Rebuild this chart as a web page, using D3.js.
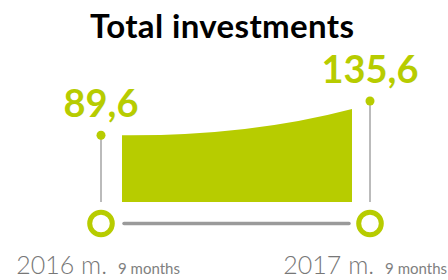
<!DOCTYPE html>
<html><head><meta charset="utf-8">
<script src="https://cdn.jsdelivr.net/npm/d3@7"></script>
<style>html,body{margin:0;padding:0;background:#fff;}svg{display:block;}</style>
</head><body>
<svg id="c" width="448" height="280"></svg>
<script>
const title = "Total investments";
const years = ["2016 m.", "2017 m."];
const periods = ["9 months", "9 months"];
const values = [89.6, 135.6];
const valueLabels = ["89,6", "135,6"];

const lime = "#b7cc00";
const grey = "#9a9a9a";
const svg = d3.select("#c");

const x = d3.scalePoint().domain(years).range([101, 370]);
const y = d3.scaleLinear().domain([0, d3.max(values)]).range([202, 101]);
const xIn = d3.scalePoint().domain(years).range([122, 352]);

svg.append("text").attr("x", 222).attr("y", 38).attr("text-anchor", "middle")
  .attr("font-family", "Lato, sans-serif").attr("font-weight", 700).attr("font-size", 33)
  .attr("textLength", 264).attr("lengthAdjust", "spacing")
  .attr("fill", "#000").text(title);

// area
const x0 = xIn(years[0]), x1 = xIn(years[1]);
const yt0 = y(values[0]), yt1 = y(values[1]) + 8;
const p = d3.path();
p.moveTo(x0, y(0));
p.lineTo(x0, yt0);
p.quadraticCurveTo(x0 + (x1 - x0) * 0.55, yt0 + 1, x1, yt1);
p.lineTo(x1, y(0));
p.closePath();
svg.append("path").attr("d", p.toString()).attr("fill", lime);

// vertical stems + dots
years.forEach((yr, i) => {
  svg.append("line").attr("x1", x(yr)).attr("x2", x(yr)).attr("y1", y(values[i])).attr("y2", y(0))
    .attr("stroke", "#a5a5a5").attr("stroke-width", 1.5);
  svg.append("circle").attr("cx", x(yr)).attr("cy", y(values[i])).attr("r", 4.5).attr("fill", lime);
  svg.append("text").attr("x", x(yr)).attr("y", y(values[i]) - 18).attr("text-anchor", "middle")
    .attr("font-family", "Lato, sans-serif").attr("font-weight", 700).attr("font-size", 38)
    .attr("fill", lime).text(valueLabels[i]);
});

// timeline
const ty = 223.5;
svg.append("line").attr("x1", 124).attr("x2", 349).attr("y1", ty).attr("y2", ty)
  .attr("stroke", grey).attr("stroke-width", 3.5).attr("stroke-linecap", "round");
years.forEach((yr, i) => {
  svg.append("circle").attr("cx", x(yr)).attr("cy", ty).attr("r", 11.3)
    .attr("fill", "#fff").attr("stroke", lime).attr("stroke-width", 5);
  const g = svg.append("g");
  const t1 = g.append("text").attr("x", 0).attr("y", 274)
    .attr("font-family", "Lato, sans-serif").attr("font-weight", 300).attr("font-size", 25)
    .attr("fill", "#777").text(yr);
  const w1 = t1.node().getComputedTextLength();
  const t2 = g.append("text").attr("x", w1 + 11).attr("y", 274)
    .attr("font-family", "Lato, sans-serif").attr("font-weight", 400).attr("font-size", 15)
    .attr("fill", "#808080").text(periods[i]);
  const w2 = t2.node().getComputedTextLength();
  const total = w1 + 11 + w2;
  let start = x(yr) + 6 - w1;
  if (start + total > 447) start = 447 - total;
  g.attr("transform", `translate(${start},0)`);
});
</script>
</body></html>
